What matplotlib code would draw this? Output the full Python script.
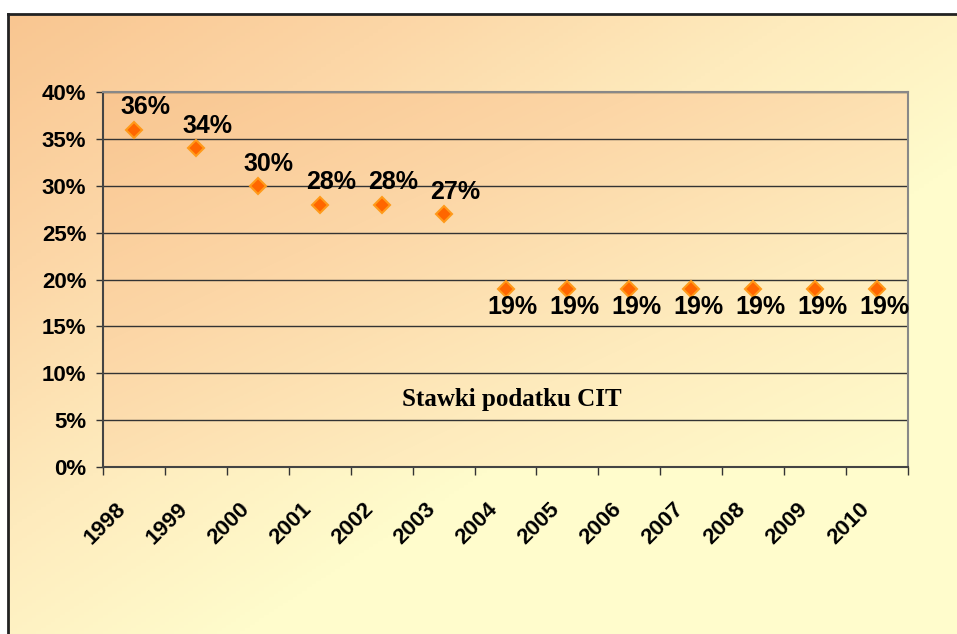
import numpy as np
import matplotlib
matplotlib.use("Agg")
import matplotlib.pyplot as plt
import matplotlib.transforms as mtransforms
from matplotlib.colors import LinearSegmentedColormap

# data
years = ["1998", "1999", "2000", "2001", "2002", "2003", "2004",
         "2005", "2006", "2007", "2008", "2009", "2010"]
rates = [36, 34, 30, 28, 28, 27, 19, 19, 19, 19, 19, 19, 19]
yticks = [0, 5, 10, 15, 20, 25, 30, 35, 40]
title = "Stawki podatku CIT"

plt.rcParams['font.family'] = ['Liberation Sans', 'DejaVu Sans']

W, H = 957, 634
fig = plt.figure(figsize=(W / 100, H / 100), dpi=100)
fig.patch.set_facecolor("white")

cmap = LinearSegmentedColormap.from_list(
    "peach", ["#F9C691", "#FCD6A6", "#FEEBBD", "#FFFCCC"])


def gradient(nx, ny, scale):
    # diagonal gradient, top-left -> bottom-right
    xs = np.linspace(0, 1, nx)
    ys = np.linspace(0, 1, ny)
    X, Y = np.meshgrid(xs, ys)
    return np.clip((X + Y) / scale, 0, 1)


# outer frame with gradient
bg = fig.add_axes([8 / W, 0, 1 - 8 / W, 1 - 14 / H])
bg.imshow(gradient(200, 200, 1.25), cmap=cmap, aspect="auto",
          extent=[0, 1, 0, 1], origin="upper", vmin=0, vmax=1)
bg.set_xlim(0, 1)
bg.set_ylim(0, 1)
bg.set_xticks([])
bg.set_yticks([])
for s in ["right", "bottom"]:
    bg.spines[s].set_visible(False)
for s in ["left", "top"]:
    bg.spines[s].set_color("#222222")
    bg.spines[s].set_linewidth(2)

# plot area
ax = fig.add_axes([103 / W, 1 - 467 / H, (908 - 103) / W, (467 - 92) / H])
ax.set_facecolor("none")
x = np.arange(len(years))
ax.imshow(gradient(200, 200, 2.0), cmap=cmap, aspect="auto",
          extent=[-0.5, len(years) - 0.5, 0, 40], origin="upper",
          vmin=0, vmax=1, zorder=0)
ax.set_xlim(-0.5, len(years) - 0.5)
ax.set_ylim(0, 40)

ax.set_yticks(yticks)
ax.set_yticklabels([f"{v}%" for v in yticks], fontsize=16, fontweight="bold")
ax.yaxis.grid(True, color="#333333", linewidth=1)
ax.set_axisbelow(True)
ax.tick_params(axis="y", direction="out", length=5, width=1, pad=7,
               color="#333333")

ax.set_xticks(x)
ax.set_xticklabels(years, fontsize=16, fontweight="bold", rotation=45,
                   ha="right", va="center", rotation_mode="anchor")
ax.tick_params(axis="x", which="major", length=0, pad=28)
ax.set_xticks(np.arange(-0.5, len(years)), minor=True)
ax.tick_params(axis="x", which="minor", direction="out", length=6, width=1,
               color="#333333")
shift = mtransforms.ScaledTranslation(-11 / 100, 0, fig.dpi_scale_trans)
for lab in ax.get_xticklabels():
    lab.set_transform(lab.get_transform() + shift)

for s in ["top", "right"]:
    ax.spines[s].set_color("#888888")
    ax.spines[s].set_linewidth(1.5)
for s in ["left", "bottom"]:
    ax.spines[s].set_color("#444444")
    ax.spines[s].set_linewidth(1.5)

ax.plot(x, rates, linestyle="none", marker="D", markersize=8.5,
        markerfacecolor="#FF6600", markeredgecolor="#FF9A1A",
        markeredgewidth=1.5, zorder=4, clip_on=False)

for xi, v in zip(x, rates):
    if v > 20:
        off = (8, 16)
    else:
        off = (5, -13)
    ax.annotate(f"{v}%", (xi, v), xytext=off, textcoords="offset points",
                ha="center", va="center", fontsize=18, fontweight="bold",
                zorder=5)

ax.text(0.508, 0.18, title, transform=ax.transAxes, ha="center",
        va="center", fontsize=18, fontweight="bold",
        family=["Liberation Serif", "DejaVu Serif"])

fig.savefig("out.png", dpi=100)
